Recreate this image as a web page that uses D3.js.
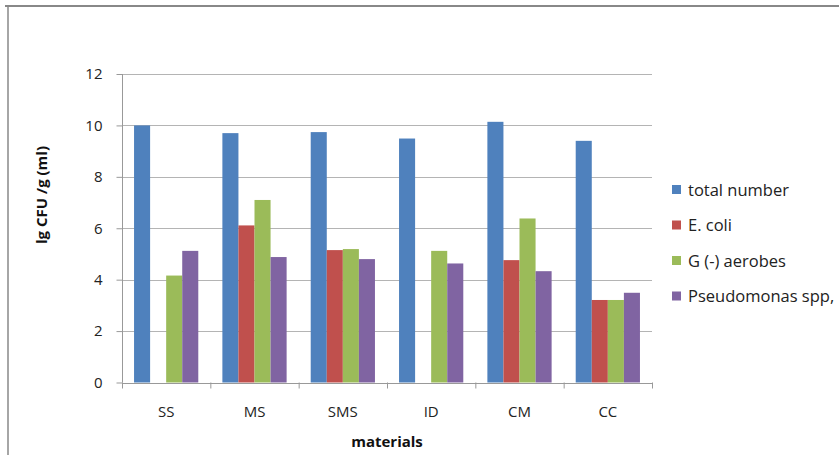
<!DOCTYPE html>
<html><head><meta charset="utf-8">
<script src="https://cdn.jsdelivr.net/npm/d3@7"></script>
<style>body{margin:0;background:#fff}svg{display:block}text{font-family:"Open Sans",sans-serif}</style>
</head><body><svg id="c" width="839" height="455"></svg>
<script>
const categories = ["SS","MS","SMS","ID","CM","CC"];
const seriesNames = ["total number","E. coli","G (-) aerobes","Pseudomonas spp,"];
const totalNumber = [10.0, 9.70, 9.74, 9.49, 10.14, 9.40];
const eColi = [0, 6.11, 5.15, 0, 4.76, 3.21];
const gAerobes = [4.16, 7.10, 5.19, 5.12, 6.38, 3.21];
const pseudomonas = [5.12, 4.88, 4.80, 4.63, 4.33, 3.49];
const yTicks = [0,2,4,6,8,10,12];
const colors = ["#4F81BD","#C0504D","#9BBB59","#8064A2"];
const series = [totalNumber, eColi, gAerobes, pseudomonas];
const FF = "'Open Sans',sans-serif";

const svg = d3.select("#c");
// frame
svg.append("line").attr("x1",5).attr("x2",839).attr("y1",6).attr("y2",6).attr("stroke","#888").attr("stroke-width",2);
svg.append("line").attr("x1",8).attr("x2",8).attr("y1",5).attr("y2",455).attr("stroke","#888").attr("stroke-width",1.5);

const L=122, R=652, T=74, B=382.5;
const x0 = d3.scaleBand().domain(categories).range([L,R]).paddingInner(0).paddingOuter(0);
const x1 = d3.scaleBand().domain(d3.range(4)).range([0,x0.bandwidth()]).paddingInner(0).paddingOuter(0.75);
const y = d3.scaleLinear().domain([0,12]).range([B,T]);

// gridlines
svg.append("g").selectAll("line").data(yTicks.filter(d=>d>0)).join("line")
  .attr("x1",L).attr("x2",R).attr("y1",d=>Math.round(y(d))+0.5).attr("y2",d=>Math.round(y(d))+0.5)
  .attr("stroke","#b4b4b4").attr("stroke-width",1);

// bars
const g = svg.append("g");
categories.forEach((c,i)=>{
  series.forEach((s,j)=>{
    if(s[i]<=0) return;
    g.append("rect").attr("x",x0(c)+x1(j)).attr("width",x1.bandwidth())
      .attr("y",y(s[i])).attr("height",y(0)-y(s[i])).attr("fill",colors[j]);
  });
});

// y axis
const ya = svg.append("g").attr("transform",`translate(${L+0.5},0)`)
  .call(d3.axisLeft(y).tickValues(yTicks).tickSize(6).tickPadding(14).tickFormat(d3.format("d")));
ya.select(".domain").attr("stroke","#999").attr("d",`M0,${T}V${B}`);
ya.selectAll(".tick line").attr("stroke","#999");
ya.selectAll("text").attr("font-size",15).attr("fill","#222").style("font-family",FF);

// x axis
const xa = svg.append("g").attr("transform",`translate(0,${Math.round(B)+0.5})`)
  .call(d3.axisBottom(x0).tickSize(0).tickPadding(23));
xa.select(".domain").attr("stroke","#999").attr("d",`M${L},0H${R}`);
xa.selectAll("text").attr("font-size",15).attr("fill","#222").style("font-family",FF);
svg.append("g").selectAll("line").data(d3.range(categories.length+1)).join("line")
  .attr("x1",d=>L+d*x0.step()+0.5).attr("x2",d=>L+d*x0.step()+0.5)
  .attr("y1",B).attr("y2",B+6).attr("stroke","#999");

// axis titles
svg.append("text").attr("x",(L+R)/2).attr("y",442).attr("dy","0.35em").attr("text-anchor","middle")
  .attr("font-size",15).attr("font-weight","bold").attr("fill","#111").text("materials");
svg.append("text").attr("transform","translate(42,195) rotate(-90)").attr("dy","0.35em").attr("text-anchor","middle")
  .attr("font-size",15).attr("font-weight","bold").attr("fill","#111").text("lg CFU /g (ml)");

// legend
const lg = svg.append("g");
seriesNames.forEach((n,j)=>{
  const yy = 190 + j*35.5;
  lg.append("rect").attr("x",672).attr("y",yy-5).attr("width",9).attr("height",9).attr("fill",colors[j]);
  lg.append("text").attr("x",688).attr("y",yy).attr("dy","0.35em").attr("font-size",16.5).attr("fill","#222").text(n);
});
</script></body></html>
